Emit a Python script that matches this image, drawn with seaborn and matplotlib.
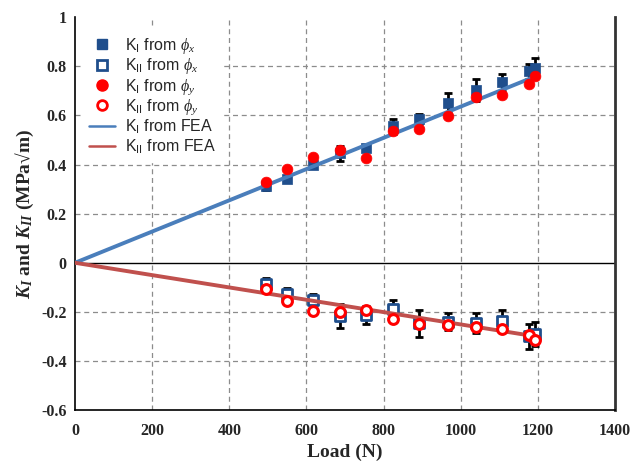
import matplotlib
matplotlib.use("Agg")
import matplotlib.pyplot as plt
import seaborn as sns
import pandas as pd
from matplotlib.lines import Line2D

# ---- data ----
load = [495, 550, 617, 687, 754, 824, 892, 967, 1040, 1107, 1177, 1192]
KI_phix = [0.312, 0.340, 0.397, 0.446, 0.466, 0.556, 0.584, 0.650, 0.705, 0.735, 0.780, 0.795]
KI_phix_err = [0.015, 0.012, 0.012, 0.030, 0.010, 0.030, 0.020, 0.040, 0.045, 0.035, 0.030, 0.040]
KII_phix = [-0.087, -0.128, -0.152, -0.217, -0.213, -0.188, -0.246, -0.240, -0.245, -0.237, -0.300, -0.290]
KII_phix_err = [0.025, 0.025, 0.025, 0.050, 0.035, 0.035, 0.055, 0.035, 0.040, 0.045, 0.050, 0.050]
KI_phiy = [0.330, 0.380, 0.430, 0.458, 0.425, 0.536, 0.545, 0.597, 0.675, 0.683, 0.730, 0.760]
KII_phiy = [-0.108, -0.156, -0.196, -0.200, -0.193, -0.230, -0.250, -0.254, -0.263, -0.270, -0.295, -0.315]
fea_load = [0, 1195]
KI_fea = [0, 0.760]
KII_fea = [0, -0.300]

xticks = [0, 200, 400, 600, 800, 1000, 1200, 1400]
yticks = [-0.6, -0.4, -0.2, 0, 0.2, 0.4, 0.6, 0.8, 1]

sns.set_style("white")
plt.rcParams["mathtext.fontset"] = "custom"
plt.rcParams["mathtext.rm"] = "Liberation Serif"
plt.rcParams["mathtext.it"] = "Liberation Serif:italic"
plt.rcParams["mathtext.bfit"] = "Liberation Serif:italic:bold"
plt.rcParams["mathtext.bf"] = "Liberation Serif:bold"
plt.rcParams["mathtext.sf"] = "Liberation Sans"

c_blue_line = "#4a7ebb"
c_red_line = "#c0504d"
c_sq = "#1f4e8c"
c_circ = "#ff0000"

df = pd.DataFrame({"load": load, "KI_phix": KI_phix, "KII_phix": KII_phix,
                   "KI_phiy": KI_phiy, "KII_phiy": KII_phiy})
dfe = pd.DataFrame({"load": fea_load, "KI": KI_fea, "KII": KII_fea})

fig = plt.figure(figsize=(6.44, 4.65), dpi=100)
ax = fig.add_axes([0.1165, 0.118, 0.8385, 0.845])

# grid
for xv in xticks[1:-1]:
    ax.axvline(xv, color="#8c8c8c", lw=0.9, ls=(0, (4, 3)), zorder=0)
for yv in yticks[1:-1]:
    if yv != 0:
        ax.axhline(yv, color="#8c8c8c", lw=0.9, ls=(0, (4, 3)), zorder=0)
ax.axhline(0, color="black", lw=1.0, zorder=1)

# error bars
ax.errorbar(load, KI_phix, yerr=KI_phix_err, fmt="none", ecolor="black",
            elinewidth=2, capsize=3, capthick=2, zorder=2)
ax.errorbar(load, KII_phix, yerr=KII_phix_err, fmt="none", ecolor="black",
            elinewidth=2, capsize=3, capthick=2, zorder=2)

sns.scatterplot(data=df, x="load", y="KI_phix", marker="s", s=55, color=c_sq,
                edgecolor=c_sq, linewidth=0.5, ax=ax, zorder=3)
sns.scatterplot(data=df, x="load", y="KII_phix", marker="s", s=55, facecolor="white",
                edgecolor=c_sq, linewidth=2, ax=ax, zorder=3)
sns.lineplot(data=dfe, x="load", y="KI", color=c_blue_line, lw=2.8, ax=ax, zorder=4)
sns.lineplot(data=dfe, x="load", y="KII", color=c_red_line, lw=2.8, ax=ax, zorder=4)
sns.scatterplot(data=df, x="load", y="KI_phiy", marker="o", s=60, color=c_circ,
                edgecolor=c_circ, linewidth=0.5, ax=ax, zorder=5)
sns.scatterplot(data=df, x="load", y="KII_phiy", marker="o", s=50, facecolor="white",
                edgecolor=c_circ, linewidth=2.2, ax=ax, zorder=5)

ax.set_xlim(0, 1400)
ax.set_ylim(-0.6, 1)
ax.set_xticks(xticks)
ax.set_yticks(yticks)
ax.set_xticklabels([str(t) for t in xticks])
ax.set_yticklabels(["-0.6", "-0.4", "-0.2", "0", "0.2", "0.4", "0.6", "0.8", "1"])
for lab in ax.get_xticklabels() + ax.get_yticklabels():
    lab.set_fontfamily("Liberation Serif")
    lab.set_fontweight("bold")
    lab.set_fontsize(11.5)
ax.tick_params(direction="in", length=3, width=1, color="black")
ax.tick_params(axis="x", pad=9)
ax.tick_params(axis="y", pad=6)

ax.set_xlabel("Load (N)", fontfamily="Liberation Serif", fontweight="bold", fontsize=14, labelpad=4)
ax.set_ylabel(r"$\mathbfit{K}_{\mathbfit{I}}$ and $\mathbfit{K}_{\mathbfit{II}}$ (MPa√m)",
              fontfamily="Liberation Serif", fontweight="bold", fontsize=14, labelpad=4)

ax.spines["top"].set_visible(False)
for s in ["left", "bottom"]:
    ax.spines[s].set_color("black")
    ax.spines[s].set_linewidth(1.2)
ax.spines["right"].set_color("#333333")
ax.spines["right"].set_linewidth(2.0)

handles = [
    Line2D([], [], ls="none", marker="s", ms=7, mfc=c_sq, mec=c_sq),
    Line2D([], [], ls="none", marker="s", ms=7, mfc="white", mec=c_sq, mew=2),
    Line2D([], [], ls="none", marker="o", ms=8, mfc=c_circ, mec=c_circ),
    Line2D([], [], ls="none", marker="o", ms=7, mfc="white", mec=c_circ, mew=2),
    Line2D([], [], color=c_blue_line, lw=1.8),
    Line2D([], [], color=c_red_line, lw=1.8),
]
labels = [
    r"K$_\mathsf{I}$ from $\phi_x$",
    r"K$_\mathsf{II}$ from $\phi_x$",
    r"K$_\mathsf{I}$ from $\phi_y$",
    r"K$_\mathsf{II}$ from $\phi_y$",
    r"K$_\mathsf{I}$ from FEA",
    r"K$_\mathsf{II}$ from FEA",
]
leg = ax.legend(handles, labels, loc="upper left", bbox_to_anchor=(0.0, 0.99),
                frameon=True, framealpha=1, edgecolor="white", facecolor="white",
                prop={"family": "Liberation Sans", "size": 11.5},
                handlelength=1.6, handletextpad=0.6, labelspacing=0.05, borderpad=0.4)
leg.set_zorder(10)

fig.savefig("out.png", dpi=100)
